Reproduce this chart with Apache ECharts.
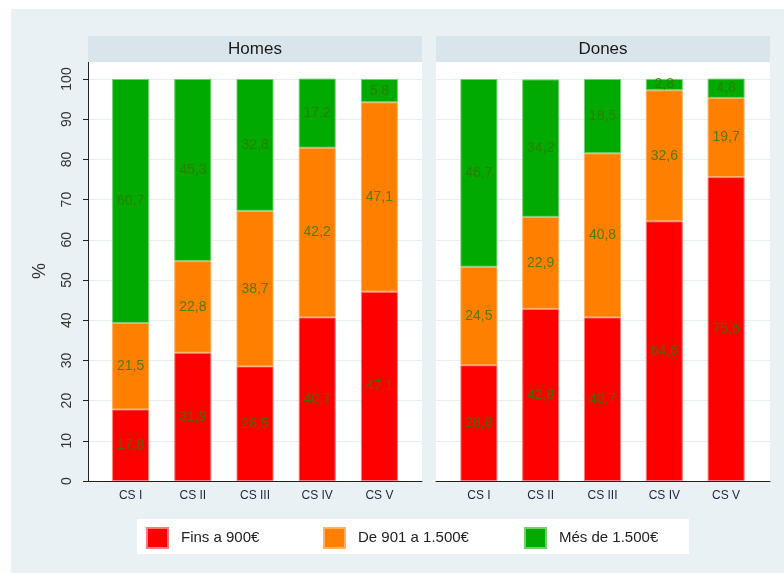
<!DOCTYPE html>
<html>
<head>
<meta charset="utf-8">
<script src="https://cdn.jsdelivr.net/npm/echarts@6/dist/echarts.min.js"></script>
<style>
  html, body { margin: 0; padding: 0; background: #fff; }
  #chart { width: 784px; height: 573px; }
</style>
</head>
<body>
<div id="chart"></div>
<script>
var categories = ['CS I', 'CS II', 'CS III', 'CS IV', 'CS V'];
var panels = ['Homes', 'Dones'];
var seriesNames = ['Fins a 900€', 'De 901 a 1.500€', 'Més de 1.500€'];
var homesFins = [17.8, 31.9, 28.5, 40.7, 47.1];
var homesMig = [21.5, 22.8, 38.7, 42.2, 47.1];
var homesMes = [60.7, 45.3, 32.8, 17.2, 5.8];
var donesFins = [28.8, 42.8, 40.7, 64.6, 75.6];
var donesMig = [24.5, 22.9, 40.8, 32.6, 19.7];
var donesMes = [46.7, 34.2, 18.5, 2.8, 4.8];
var yTicks = [0, 10, 20, 30, 40, 50, 60, 70, 80, 90, 100];

var colors = ['#ff0000', '#ff8000', '#00aa00'];
var borders = ['#ff7a7a', '#ffb060', '#70d070'];
var fontFam = '"Liberation Sans", Arial, sans-serif';

var chart = echarts.init(document.getElementById('chart'));

function fmt(p) {
  return p.value.toFixed(1).replace('.', ',');
}

// full panel grids (gridlines + axis line) and narrow grids (bars)
var grids = [
  { left: 88, width: 334, top: 79, height: 402 },
  { left: 99.5, width: 311, top: 79, height: 402 },
  { left: 436, width: 334, top: 79, height: 402 },
  { left: 448, width: 309, top: 79, height: 402 }
];

var xLabel = { fontFamily: fontFam, fontSize: 12, color: '#1c2541', margin: 9 };
var xAxes = [
  { gridIndex: 0, type: 'value', min: 0, max: 1, axisLine: { show: true, lineStyle: { color: '#222', width: 1 } },
    axisTick: { show: false }, axisLabel: { show: false }, splitLine: { show: false } },
  { gridIndex: 1, type: 'category', data: categories, axisLine: { show: false }, axisTick: { show: false }, axisLabel: xLabel },
  { gridIndex: 2, type: 'value', min: 0, max: 1, axisLine: { show: true, lineStyle: { color: '#222', width: 1 } },
    axisTick: { show: false }, axisLabel: { show: false }, splitLine: { show: false } },
  { gridIndex: 3, type: 'category', data: categories, axisLine: { show: false }, axisTick: { show: false }, axisLabel: xLabel }
];

var yAxes = [
  { gridIndex: 0, type: 'value', min: yTicks[0], max: yTicks[yTicks.length - 1], interval: 10,
    axisLine: { show: false }, axisTick: { show: true, length: 5, lineStyle: { color: '#222' } },
    axisLabel: { rotate: 90, fontFamily: fontFam, fontSize: 14, color: '#333', margin: 14 },
    splitLine: { show: true, lineStyle: { color: '#e6eef1', width: 1 } } },
  { gridIndex: 1, type: 'value', min: 0, max: 100, show: false },
  { gridIndex: 2, type: 'value', min: 0, max: 100, interval: 10,
    axisLine: { show: false }, axisTick: { show: false }, axisLabel: { show: false },
    splitLine: { show: true, lineStyle: { color: '#e6eef1', width: 1 } } },
  { gridIndex: 3, type: 'value', min: 0, max: 100, show: false }
];

var panelData = [[homesFins, homesMig, homesMes], [donesFins, donesMig, donesMes]];
var series = [];
panelData.forEach(function (sets, pi) {
  sets.forEach(function (vals, si) {
    series.push({
      name: seriesNames[si],
      type: 'bar',
      stack: 'p' + pi,
      xAxisIndex: pi * 2 + 1,
      yAxisIndex: pi * 2 + 1,
      barWidth: 37,
      data: vals,
      itemStyle: { color: colors[si], borderColor: borders[si], borderWidth: 1 },
      label: {
        show: true, position: 'inside', formatter: fmt,
        fontFamily: fontFam, fontSize: 14, color: 'rgba(50,120,0,0.85)'
      }
    });
  });
});

var graphics = [
  { type: 'rect', shape: { x: 11, y: 9, width: 773, height: 564 }, style: { fill: '#e9f1f4' }, z: -10 },
  { type: 'rect', shape: { x: 137, y: 519, width: 552, height: 35 }, style: { fill: '#ffffff' }, z: -9 },
  { type: 'text', x: 40, y: 271, rotation: Math.PI / 2,
    style: { text: '%', fontFamily: fontFam, fontSize: 18, fill: '#333', align: 'center', verticalAlign: 'middle' }, z: 5 }
];
[88, 436].forEach(function (x, i) {
  graphics.push({ type: 'rect', shape: { x: x, y: 62, width: 334, height: 419 }, style: { fill: '#ffffff' }, z: -9 });
  graphics.push({ type: 'rect', shape: { x: x, y: 36, width: 334, height: 26 }, style: { fill: '#d9e5eb' }, z: -9 });
  graphics.push({ type: 'text', x: x + 167, y: 49, style: { text: panels[i], fontFamily: fontFam, fontSize: 17,
    fill: '#1a1a1a', align: 'center', verticalAlign: 'middle' }, z: 5 });
});
graphics.push({ type: 'line', shape: { x1: 88.5, y1: 62, x2: 88.5, y2: 481 }, style: { stroke: '#222', lineWidth: 1 }, z: 5 });

var legendLeft = [146, 323, 524];
var legends = seriesNames.map(function (n, i) {
  return {
    data: [n], left: legendLeft[i], top: 527, padding: 0,
    itemWidth: 21, itemHeight: 20, icon: 'rect',
    textStyle: { fontFamily: fontFam, fontSize: 15, color: '#222', padding: [0, 0, 0, 8] }
  };
});

chart.setOption({
  backgroundColor: '#ffffff',
  animation: false,
  graphic: graphics,
  grid: grids,
  xAxis: xAxes,
  yAxis: yAxes,
  legend: legends,
  series: series
});
</script>
</body>
</html>
